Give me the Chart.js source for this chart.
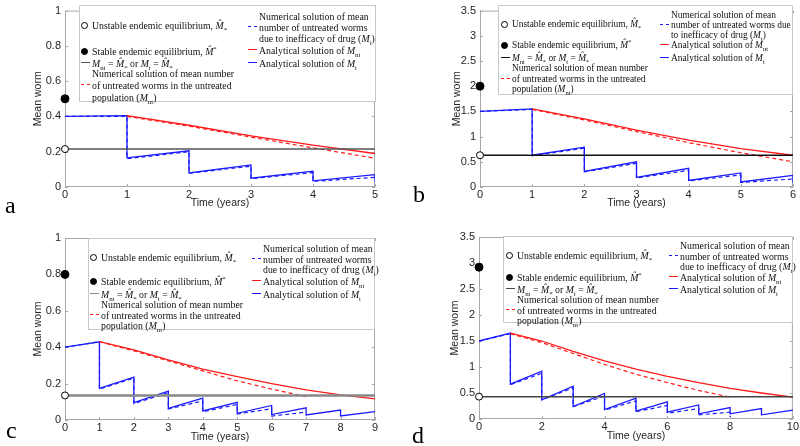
<!DOCTYPE html>
<html>
<head>
<meta charset="utf-8">
<script src="https://cdn.jsdelivr.net/npm/chart.js@4.4.0/dist/chart.umd.min.js"></script>
<style>
body { margin: 0; background: #fff; width: 800px; height: 446px; position: relative; overflow: hidden; }
.panel { position: absolute; width: 400px; height: 223px; }
.lg { position: absolute; background: #fff; border: 1px solid #c8c8c8; box-sizing: border-box;
      font-family: 'Liberation Serif', 'DejaVu Serif', serif; font-size: 9.8px; color: #111; }
.lg .t { position: absolute; white-space: nowrap; line-height: 11px; }
.lg .mk { position: absolute; box-sizing: border-box; }
.tag { position: absolute; font-family: 'Liberation Serif', serif; font-size: 24px; line-height: 1; color: #000; }
sub, sup { font-size: 70%; line-height: 0; }
</style>
</head>
<body>
<div class="panel" style="left:0;top:0"><canvas id="chartA" width="400" height="223"></canvas></div>
<div class="panel" style="left:400px;top:0"><canvas id="chartB" width="400" height="223"></canvas></div>
<div class="panel" style="left:0;top:223px"><canvas id="chartC" width="400" height="223"></canvas></div>
<div class="panel" style="left:400px;top:223px"><canvas id="chartD" width="400" height="223"></canvas></div>
<div class="tag" style="left:5px;top:193px">a</div>
<div class="tag" style="left:413px;top:182px">b</div>
<div class="tag" style="left:6px;top:418px">c</div>
<div class="tag" style="left:412px;top:423px">d</div>
<script>
// ---- panel a (5 years) ----
const mtStartA = 0.40;
const mtPreA = [0.405, 0.205, 0.125, 0.09, 0.07];
const mtPostA = [0.165, 0.08, 0.05, 0.035, 0.03];
const mtNumPreA = [0.40, 0.20, 0.118, 0.082, 0.055];
const mtNumPostA = [0.16, 0.078, 0.047, 0.032];
const mntA = [0.405, 0.35, 0.29, 0.237, 0.19];
const mntNumA = [0.40, 0.345, 0.283, 0.222, 0.163];
const eqUnstableA = 0.215, eqStableA = 0.5;

// ---- panel b (6 years) ----
const mtStartB = 1.5;
const mtPreB = [1.55, 0.79, 0.50, 0.37, 0.28, 0.23];
const mtPostB = [0.63, 0.31, 0.19, 0.13, 0.10, 0.08];
const mtNumPreB = [1.54, 0.77, 0.47, 0.33, 0.24, 0.16];
const mtNumPostB = [0.62, 0.30, 0.18, 0.12, 0.09];
const mntB = [1.55, 1.35, 1.13, 0.93, 0.76, 0.63];
const mntNumB = [1.54, 1.33, 1.10, 0.88, 0.68, 0.50];
const eqUnstableB = 0.63, eqStableB = 2.0;

// ---- panel c (9 years) ----
const mtStartC = 0.40;
const mtPreC = [0.43, 0.235, 0.158, 0.12, 0.097, 0.08, 0.067, 0.055, 0.046];
const mtPostC = [0.174, 0.095, 0.064, 0.05, 0.037, 0.03, 0.028, 0.022];
const mtNumPreC = [0.43, 0.23, 0.15, 0.105, 0.085, 0.062, 0.043];
const mtNumPostC = [0.17, 0.09, 0.06, 0.045, 0.033, 0.022];
const mntC = [0.43, 0.385, 0.33, 0.28, 0.238, 0.20, 0.165, 0.138, 0.116];
const mntNumC = [0.43, 0.38, 0.325, 0.27, 0.215, 0.17, 0.128];
const eqUnstableC = 0.135, eqStableC = 0.8;

// ---- panel d (10 years) ----
const mtStartD = 1.5;
const mtPreD = [1.65, 0.92, 0.63, 0.49, 0.40, 0.33, 0.27, 0.22, 0.20, 0.17];
const mtPostD = [0.67, 0.37, 0.24, 0.18, 0.15, 0.13, 0.10, 0.10, 0.08];
const mtNumPreD = [1.64, 0.88, 0.60, 0.44, 0.35, 0.26, 0.20, 0.13];
const mtNumPostD = [0.66, 0.37, 0.24, 0.17, 0.14, 0.11, 0.08, 0.04];
const mntD = [1.65, 1.50, 1.30, 1.12, 0.96, 0.82, 0.70, 0.59, 0.50, 0.42];
const mntNumD = [1.64, 1.47, 1.26, 1.05, 0.86, 0.70, 0.55, 0.42];
const eqUnstableD = 0.43, eqStableD = 2.92;

const RED = '#ff1a1a';
const BLUE = '#1a1aff';

// пилоподібна крива: значення перед і після кожної дози
function sawtooth(start, pre, post) {
    const pts = [{ x: 0, y: start }];
    pre.forEach((v, i) => {
        pts.push({ x: i + 1, y: v });
        if (i < post.length) pts.push({ x: i + 1, y: post[i] });
    });
    return pts;
}
function fromYearOne(vals) {
    return vals.map((v, i) => ({ x: i + 1, y: v }));
}

// рамка осей та внутрішні поділки як у MATLAB
const axesBox = {
    id: 'axesBox',
    beforeDatasetsDraw(chart) {
        const { ctx, chartArea: { left, right, top, bottom }, scales: { x, y } } = chart;
        ctx.save();
        ctx.strokeStyle = '#a8a8a8';
        ctx.lineWidth = 1;
        ctx.strokeRect(left + 0.5, top + 0.5, right - left - 1, bottom - top - 1);
        ctx.beginPath();
        x.ticks.forEach(t => {
            const px = Math.round(x.getPixelForValue(t.value)) + 0.5;
            ctx.moveTo(px, bottom); ctx.lineTo(px, bottom - 3);
            ctx.moveTo(px, top); ctx.lineTo(px, top + 3);
        });
        y.ticks.forEach(t => {
            const py = Math.round(y.getPixelForValue(t.value)) + 0.5;
            ctx.moveTo(left, py); ctx.lineTo(left + 3, py);
            ctx.moveTo(right, py); ctx.lineTo(right - 3, py);
        });
        ctx.stroke();
        ctx.restore();
    }
};

function makePanel(id, p) {
    const years = p.years;
    new Chart(document.getElementById(id), {
        type: 'line',
        data: {
            datasets: [
                { data: [{ x: 0, y: p.eqUnstable }], showLine: false, pointRadius: 3.5, pointBackgroundColor: '#fff',
                  pointBorderColor: '#000', pointBorderWidth: 1, clip: false },
                { data: [{ x: 0, y: p.eqStable }], showLine: false, pointRadius: 4, pointBackgroundColor: '#000',
                  pointBorderColor: '#000', clip: false },
                { data: [{ x: 0, y: p.eqUnstable }, { x: years, y: p.eqUnstable }], borderColor: p.eqColor,
                  borderWidth: p.eqWidth, pointRadius: 0 },
                { data: fromYearOne(p.mntNum), borderColor: RED, borderWidth: 1.2, borderDash: [4, 3], pointRadius: 0 },
                { data: sawtooth(p.mtStart, p.mtNumPre, p.mtNumPost), borderColor: BLUE, borderWidth: 1.2,
                  borderDash: [4, 3], pointRadius: 0 },
                { data: fromYearOne(p.mnt), borderColor: RED, borderWidth: 1.3, pointRadius: 0 },
                { data: sawtooth(p.mtStart, p.mtPre, p.mtPost), borderColor: BLUE, borderWidth: 1.3, pointRadius: 0 }
            ]
        },
        options: {
            responsive: false,
            animation: false,
            layout: { padding: { top: p.top, right: p.right, left: 0, bottom: 0 } },
            plugins: { legend: { display: false }, tooltip: { enabled: false } },
            scales: {
                x: {
                    type: 'linear', min: 0, max: years,
                    grid: { display: false, drawTicks: false }, border: { display: false },
                    ticks: { stepSize: p.xStep, padding: 1, color: '#262626', maxRotation: 0,
                             font: { family: 'Liberation Sans, Arial', size: 11 } },
                    title: { display: true, text: 'Time (years)', color: '#262626',
                             font: { family: 'Liberation Sans, Arial', size: 10.5 }, padding: { top: 0, bottom: p.xTitlePad } },
                    afterFit: s => { s.height = p.xHeight; }
                },
                y: {
                    min: 0, max: p.yMax,
                    grid: { display: false, drawTicks: false }, border: { display: false },
                    ticks: { stepSize: p.yStep, padding: 4, color: '#262626',
                             font: { family: 'Liberation Sans, Arial', size: 11 },
                             callback: v => String(+v.toFixed(1)) },
                    title: { display: true, text: 'Mean worm', color: '#262626',
                             font: { family: 'Liberation Sans, Arial', size: 10.5 }, padding: { top: p.yTitlePad, bottom: 0 } },
                    afterFit: s => { s.width = p.yWidth; }
                }
            }
        },
        plugins: [axesBox]
    });
}

// легенда (HTML поверх графіка)
function circle(filled) {
    return `<div class="mk" style="width:7px;height:7px;border-radius:50%;border:1px solid #000;background:${filled ? '#000' : '#fff'};left:-3.5px;top:-3.5px"></div>`;
}
function lineMk(color, dashed) {
    return `<div class="mk" style="width:9px;height:0;border-top:1.5px ${dashed ? 'dashed' : 'solid'} ${color};left:-4.5px;top:-0.75px"></div>`;
}
const hatSub = '<i>M&#770;</i><sub>*</sub>';
const hatSup = '<i>M&#770;</i><sup>*</sup>';
const mnt = '<i>M</i><sub>nt</sub>';
const mt = '<i>M</i><sub>t</sub>';

function buildLegend(b, eqColor, rightLines) {
    const el = document.createElement('div');
    el.className = 'lg';
    el.style.left = b.l + 'px'; el.style.top = b.t + 'px';
    el.style.width = b.w + 'px'; el.style.height = b.h + 'px';
    if (b.fs) el.style.fontSize = b.fs + 'px';
    let html = '';
    const mk = (x, y, inner) => { html += `<div style="position:absolute;left:${x}px;top:${y}px">${inner}</div>`; };
    const txt = (x, y, s) => { html += `<div class="t" style="left:${x}px;top:${y - 5.5}px">${s}</div>`; };
    const L = b.lx, R = b.rx, r = b.rows;
    mk(L - 8, r[0], circle(false)); txt(L, r[0], 'Unstable endemic equilibrium, ' + hatSub);
    mk(L - 8, r[1], circle(true)); txt(L, r[1], 'Stable endemic equilibrium, ' + hatSup);
    mk(L - 7, r[2], lineMk(eqColor, false)); txt(L, r[2], mnt + ' = ' + hatSub + ' or ' + mt + ' = ' + hatSub);
    mk(L - 7, r[4], lineMk(RED, true));
    txt(L, r[3], 'Numerical solution of mean number');
    txt(L, r[4], 'of untreated worms in the untreated');
    txt(L, r[5], 'population (' + mnt + ')');
    const q = b.right;
    mk(R - 7, q[1], lineMk(BLUE, true));
    txt(R, q[0], rightLines[0]);
    txt(R, q[1], rightLines[1]);
    txt(R, q[2], rightLines[2]);
    mk(R - 7, q[3], lineMk(RED, false)); txt(R, q[3], 'Analytical solution of ' + mnt);
    mk(R - 7, q[4], lineMk(BLUE, false)); txt(R, q[4], 'Analytical solution of ' + mt);
    el.innerHTML = html;
    document.body.appendChild(el);
}

const rightStd = ['Numerical solution of mean', 'number of untreated worms', 'due to inefficacy of drug (' + mt + ')'];
const rightB = ['Numerical solution of mean', 'number of untreated worms due', 'to inefficacy of drug (' + mt + ')'];

makePanel('chartA', { years: 5, xStep: 1, yMax: 1, yStep: 0.2, top: 6, right: 25, yWidth: 65, xHeight: 36,
    yTitlePad: 31.7, xTitlePad: 13.7, eqColor: '#555', eqWidth: 1.5,
    mtStart: mtStartA, mtPre: mtPreA, mtPost: mtPostA, mtNumPre: mtNumPreA, mtNumPost: mtNumPostA,
    mnt: mntA, mntNum: mntNumA, eqUnstable: eqUnstableA, eqStable: eqStableA });
makePanel('chartB', { years: 6, xStep: 1, yMax: 3.5, yStep: 0.5, top: 6, right: 7, yWidth: 80, xHeight: 36,
    yTitlePad: 50.7, xTitlePad: 13.7, eqColor: '#111', eqWidth: 1.3,
    mtStart: mtStartB, mtPre: mtPreB, mtPost: mtPostB, mtNumPre: mtNumPreB, mtNumPost: mtNumPostB,
    mnt: mntB, mntNum: mntNumB, eqUnstable: eqUnstableB, eqStable: eqStableB });
makePanel('chartC', { years: 9, xStep: 1, yMax: 1, yStep: 0.2, top: 15, right: 25, yWidth: 65, xHeight: 26,
    yTitlePad: 31.7, xTitlePad: 2.5, eqColor: '#888', eqWidth: 2.5,
    mtStart: mtStartC, mtPre: mtPreC, mtPost: mtPostC, mtNumPre: mtNumPreC, mtNumPost: mtNumPostC,
    mnt: mntC, mntNum: mntNumC, eqUnstable: eqUnstableC, eqStable: eqStableC });
makePanel('chartD', { years: 10, xStep: 2, yMax: 3.5, yStep: 0.5, top: 14, right: 7, yWidth: 79, xHeight: 27,
    yTitlePad: 48.7, xTitlePad: 4, eqColor: '#444', eqWidth: 1.5,
    mtStart: mtStartD, mtPre: mtPreD, mtPost: mtPostD, mtNumPre: mtNumPreD, mtNumPost: mtNumPostD,
    mnt: mntD, mntNum: mntNumD, eqUnstable: eqUnstableD, eqStable: eqStableD });

buildLegend({ l: 79, t: 5, w: 297, h: 97, lx: 12, rx: 179,
    rows: [19, 45, 57, 67, 79, 91], right: [10, 21, 32, 44, 57] }, '#555', rightStd);
buildLegend({ l: 498, t: 5, w: 295, h: 90, lx: 13, rx: 172, fs: 9.4,
    rows: [18, 39, 52, 62, 73, 83], right: [9, 19, 29, 39, 52] }, '#111', rightB);
buildLegend({ l: 88, t: 238, w: 287, h: 92, lx: 12, rx: 174,
    rows: [18, 42, 55, 65, 76, 86], right: [9, 20, 30, 42, 55] }, '#888', rightStd);
buildLegend({ l: 503, t: 236, w: 290, h: 87, lx: 13, rx: 176,
    rows: [18, 40, 52, 62, 73, 83], right: [8, 19, 29, 40, 52] }, '#444', rightStd);
</script>
</body>
</html>
